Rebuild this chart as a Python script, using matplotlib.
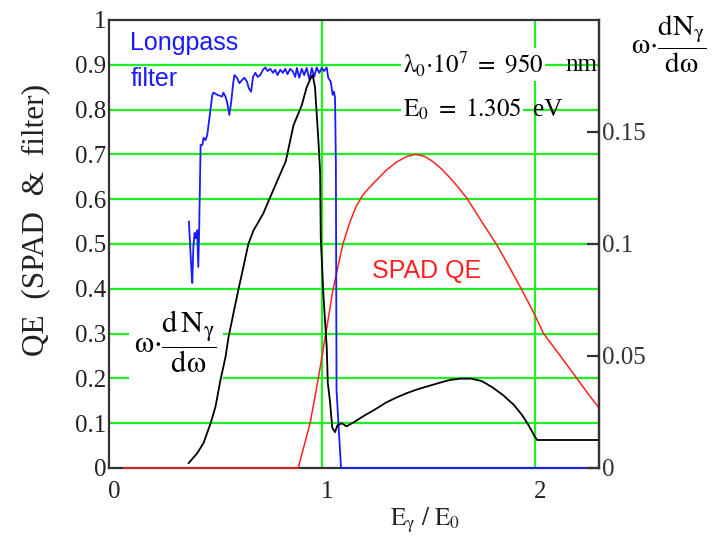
import matplotlib
matplotlib.use("Agg")
import matplotlib.pyplot as plt
from matplotlib.transforms import ScaledTranslation

plt.rcParams['font.family'] = ['Liberation Serif', 'DejaVu Serif']
plt.rcParams['mathtext.fontset'] = 'stix'

# ---- data (x = E_gamma / E_0) ----
filter_x = [0.375, 0.380, 0.386, 0.391, 0.396, 0.402, 0.407, 0.414, 0.419, 0.423,
            0.430, 0.438, 0.444, 0.453, 0.461, 0.472, 0.485, 0.491, 0.508, 0.531,
            0.537, 0.547, 0.555, 0.565, 0.573, 0.583, 0.589, 0.601, 0.612, 0.625,
            0.636, 0.648, 0.656, 0.667, 0.676, 0.687, 0.698, 0.710, 0.723, 0.734,
            0.744, 0.757, 0.770, 0.780, 0.791, 0.804, 0.816, 0.827, 0.838, 0.850,
            0.863, 0.874, 0.882, 0.893, 0.905, 0.916, 0.928, 0.941, 0.952, 0.963,
            0.975, 0.987, 0.999, 1.009, 1.022, 1.029, 1.041, 1.050, 1.056, 1.061,
            1.065, 1.068, 1.089, 2.300]
filter_qe = [0.550, 0.505, 0.449, 0.413, 0.494, 0.525, 0.513, 0.531, 0.449, 0.527,
             0.721, 0.721, 0.737, 0.732, 0.743, 0.784, 0.833, 0.838, 0.833, 0.829,
             0.838, 0.829, 0.815, 0.788, 0.815, 0.859, 0.877, 0.871, 0.859, 0.866,
             0.871, 0.862, 0.848, 0.840, 0.873, 0.882, 0.873, 0.877, 0.889, 0.894,
             0.886, 0.891, 0.882, 0.889, 0.877, 0.889, 0.882, 0.891, 0.879, 0.891,
             0.885, 0.873, 0.893, 0.871, 0.891, 0.877, 0.893, 0.866, 0.893, 0.873,
             0.894, 0.882, 0.893, 0.886, 0.894, 0.871, 0.862, 0.833, 0.840, 0.826,
             0.676, 0.174, 0.0, 0.0]

spad_x = [0.07, 0.888, 0.944, 0.981, 1.023, 1.051, 1.075, 1.098, 1.130, 1.160,
          1.190, 1.220, 1.257, 1.300, 1.350, 1.400, 1.440, 1.480, 1.520, 1.560,
          1.600, 1.640, 1.680, 1.720, 1.760, 1.818, 1.875, 1.935, 1.990, 2.040,
          2.100, 2.150, 2.196, 2.250, 2.300]
spad_qe = [0.0, 0.0, 0.100, 0.196, 0.315, 0.397, 0.450, 0.500, 0.548, 0.584,
           0.608, 0.625, 0.643, 0.664, 0.683, 0.696, 0.700, 0.696, 0.684, 0.668,
           0.648, 0.626, 0.602, 0.572, 0.542, 0.500, 0.452, 0.400, 0.350, 0.300,
           0.262, 0.230, 0.200, 0.165, 0.134]

spec_x = [0.374, 0.414, 0.444, 0.477, 0.500, 0.523, 0.547, 0.561, 0.584, 0.607,
          0.631, 0.654, 0.678, 0.724, 0.757, 0.830, 0.866, 0.905, 0.928, 0.947,
          0.956, 0.967, 0.975, 0.983, 0.991, 0.994, 1.006, 1.014, 1.022, 1.027,
          1.037, 1.048, 1.061, 1.072, 1.092, 1.115, 1.150, 1.200, 1.250, 1.300,
          1.350, 1.400, 1.450, 1.500, 1.550, 1.600, 1.650, 1.700, 1.750, 1.800,
          1.850, 1.900, 1.940, 1.970, 2.000, 2.010, 2.300]
spec_y = [0.0022, 0.0066, 0.0112, 0.0200, 0.0274, 0.0392, 0.0496, 0.0584, 0.0690, 0.0794,
          0.0898, 0.1000, 0.1060, 0.1136, 0.1210, 0.1370, 0.1530, 0.1620, 0.1700, 0.1740,
          0.1754, 0.1700, 0.1580, 0.1460, 0.1320, 0.1030, 0.0780, 0.0660, 0.0540, 0.0380,
          0.0300, 0.0180, 0.0160, 0.0190, 0.0200, 0.0186, 0.0205, 0.0235, 0.0262, 0.0292,
          0.0315, 0.0335, 0.0352, 0.0366, 0.0380, 0.0393, 0.0399, 0.0399, 0.0388, 0.0360,
          0.0325, 0.0282, 0.0235, 0.0190, 0.0138, 0.0125, 0.0125]

left_ticks = [0, 0.1, 0.2, 0.3, 0.4, 0.5, 0.6, 0.7, 0.8, 0.9, 1]
left_labels = ['0', '0.1', '0.2', '0.3', '0.4', '0.5', '0.6', '0.7', '0.8', '0.9', '1']
x_ticks = [0, 1, 2]
right_ticks = [0, 0.05, 0.1, 0.15]
right_labels = ['0', '0.05', '0.1', '0.15']

W, H = 712, 547
fig = plt.figure(figsize=(W / 100, H / 100), dpi=100)
L, R, B, T = 109, 599, 468, 20
ax = fig.add_axes([L / W, 1 - B / H, (R - L) / W, (B - T) / H])
ax.set_xlim(0, 2.3)
ax.set_ylim(0, 1)

green = '#1ff01f'
for yv in left_ticks[1:-1]:
    ax.axhline(yv, color=green, lw=1.6, zorder=0.5)
for xv in x_ticks[1:]:
    ax.axvline(xv, color=green, lw=1.6, zorder=0.5)

ax.plot(spad_x, spad_qe, color='#ff2020', lw=1.1, zorder=3, clip_on=False)
ax.plot(filter_x, filter_qe, color='#1a1aff', lw=1.3, zorder=3.1, clip_on=False)

ax.set_yticks(left_ticks)
ax.set_yticklabels(left_labels)
ax.set_xticks(x_ticks)
ax.tick_params(axis='y', length=0, labelsize=18, colors='#222222', pad=2)
ax.tick_params(axis='x', length=0, labelsize=18, colors='#222222', pad=9)
for lbl in ax.get_xticklabels():
    lbl.set_transform(lbl.get_transform() + ScaledTranslation(5 / 100, 0, fig.dpi_scale_trans))
for s in ax.spines.values():
    s.set_color('#333333')
    s.set_linewidth(1.6)

ax2 = ax.twinx()
ax2.set_ylim(0, 0.2)
ax2.plot(spec_x, spec_y, color='black', lw=1.3, zorder=3)
ax2.set_yticks(right_ticks)
ax2.set_yticklabels(right_labels)
ax2.tick_params(axis='y', direction='in', length=9, width=1.6, colors='#333333',
                labelsize=18, pad=2)
for name, s in ax2.spines.items():
    if name == 'right':
        s.set_color('#333333')
        s.set_linewidth(1.6)
    else:
        s.set_visible(False)

# annotations
ax.text(0.10, 0.948, 'Longpass', color='#1a1aff', fontsize=18,
        family=['Liberation Sans'], ha='left', va='center')
ax.text(0.10, 0.868, 'filter', color='#1a1aff', fontsize=18,
        family=['Liberation Sans'], ha='left', va='center')
ax.text(1.234, 0.44, 'SPAD QE', color='#ff2020', fontsize=18,
        family=['Liberation Sans'], ha='left', va='center')

wb = dict(facecolor='white', edgecolor='none', pad=1.5)
ax.text(1.378, 0.9, r'$\mathrm{\lambda_0{\cdot}10^7\ =\ 950}$', fontsize=18,
        ha='left', va='center', bbox=wb, zorder=3)
ax.text(2.14, 0.9, 'nm', fontsize=18, ha='left', va='center', zorder=3)
ax.text(1.378, 0.8, r'$\mathrm{E_0\ =\ 1.305}$', fontsize=18,
        ha='left', va='center', bbox=wb, zorder=3)
ax.text(1.99, 0.8, 'eV', fontsize=18, ha='left', va='center', zorder=3)

omega_lbl = r'$\mathrm{\omega}{\cdot}\dfrac{\mathrm{d\,N_{\gamma}}}{\mathrm{d\omega}}$'
omega_lbl_r = r'$\mathrm{\omega}{\cdot}\dfrac{\mathrm{dN_{\gamma}}}{\mathrm{d\omega}}$'
ax.text(0.313, 0.283, omega_lbl, fontsize=22, ha='center', va='center',
        bbox=dict(facecolor='white', edgecolor='none', pad=4), zorder=3)
fig.text(707 / W, 1 - 44 / H, omega_lbl_r, fontsize=21, ha='right', va='center')

fig.text(36 / W, 1 - 220 / H, 'QE  (SPAD  &  filter)', fontsize=22.5,
         rotation=90, ha='center', va='center', color='#222222')
fig.text(425 / W, 1 - 520 / H, r'$\mathrm{E_{\gamma}\ /\ E_0}$', fontsize=18,
         ha='center', va='center', color='#222222')

fig.savefig('out.png', dpi=100)
